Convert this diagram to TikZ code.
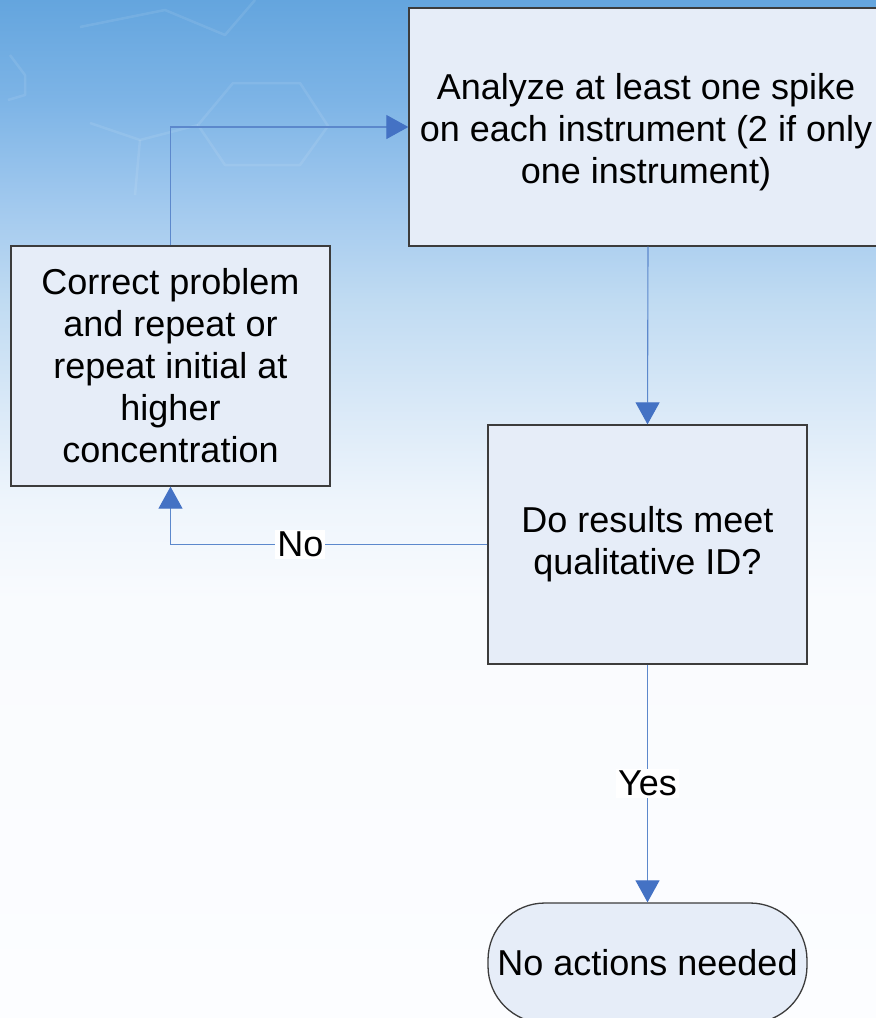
\documentclass[tikz,border=0pt]{standalone}
\usepackage{fontspec}
\setmainfont{Liberation Sans}
\usetikzlibrary{arrows.meta,positioning}

\definecolor{boxfill}{RGB}{230,237,248}
\definecolor{boxline}{RGB}{60,60,60}
\definecolor{linkline}{RGB}{92,136,204}
\definecolor{tipfill}{RGB}{68,114,196}
\definecolor{sky0}{RGB}{100,165,222}
\definecolor{sky1}{RGB}{125,180,230}
\definecolor{sky2}{RGB}{160,200,238}
\definecolor{sky3}{RGB}{192,219,242}
\definecolor{sky4}{RGB}{216,232,247}
\definecolor{sky5}{RGB}{238,245,252}
\definecolor{sky6}{RGB}{249,251,254}
\definecolor{sky7}{RGB}{252,253,255}

\tikzset{
  every node/.style={font=\fontsize{36}{42}\selectfont},
  procbox/.style={draw=boxline, line width=1.3pt, fill=boxfill, align=center, inner sep=0pt},
  endbox/.style={procbox, rounded corners=57pt},
  conn/.style={draw=linkline, line width=1.1pt,
    -{Triangle[width=24pt,length=22pt,fill=tipfill,color=tipfill]}},
  lbl/.style={fill=white, inner sep=2pt},
  ring/.style={draw=white, draw opacity=0.09, line width=2.5pt, line join=round},
  band/.style={draw=none, shading=axis, shading angle=0}
}

\begin{document}
\begin{tikzpicture}[x=1pt,y=-1pt]
  \useasboundingbox (0,0) rectangle (876,1018);
  \clip (0,0) rectangle (876,1018);

  % sky backdrop, blue at the top fading to white
  \shade[band, top color=sky0, bottom color=sky1] (0,0) rectangle (876,100.5);
  \shade[band, top color=sky1, bottom color=sky2] (0,100) rectangle (876,200.5);
  \shade[band, top color=sky2, bottom color=sky3] (0,200) rectangle (876,300.5);
  \shade[band, top color=sky3, bottom color=sky4] (0,300) rectangle (876,400.5);
  \shade[band, top color=sky4, bottom color=sky5] (0,400) rectangle (876,500.5);
  \shade[band, top color=sky5, bottom color=sky6] (0,500) rectangle (876,600.5);
  \shade[band, top color=sky6, bottom color=sky7] (0,600) rectangle (876,1018);

  % faint molecule outlines in the sky
  \draw[ring] (233,83) -- (300,83) -- (328,126) -- (300,165) -- (225,165) -- (198,125) -- cycle;
  \draw[ring] (198,125) -- (140,140) -- (90,123);
  \draw[ring] (140,140) -- (135,195);
  \draw[ring] (80,27) -- (165,10) -- (225,35) -- (255,0);
  \draw[ring] (10,55) -- (25,75) -- (25,95) -- (8,100);

  % steps
  \node[procbox, minimum width=478pt, minimum height=238pt] (A) at (648,127) {};
  \node[align=center] (Atext) at (646,132)
    {Analyze at least one spike\\on each instrument (2 if only\\one instrument)};
  \node[procbox, minimum width=319pt, minimum height=240pt] (C) at (170.5,366)
    {Correct problem\\and repeat or\\repeat initial at\\higher\\concentration};
  \node[procbox, minimum width=319pt, minimum height=239pt] (D) at (647.5,544.5)
    {Do results meet\\qualitative ID?};
  \node[endbox, minimum width=319pt, minimum height=120pt] (T) at (647.5,963)
    {No actions needed};

  % links
  \draw[conn] (A.south) -- (D.north);
  \draw[conn] (D.west) -- node[lbl, pos=0.59] {No} (C.south |- D.west) -- (C.south);
  \draw[conn] (C.north) |- (A.west);
  \draw[conn] (D.south) -- node[lbl, pos=0.5] {Yes} (T.north);
\end{tikzpicture}
\end{document}
